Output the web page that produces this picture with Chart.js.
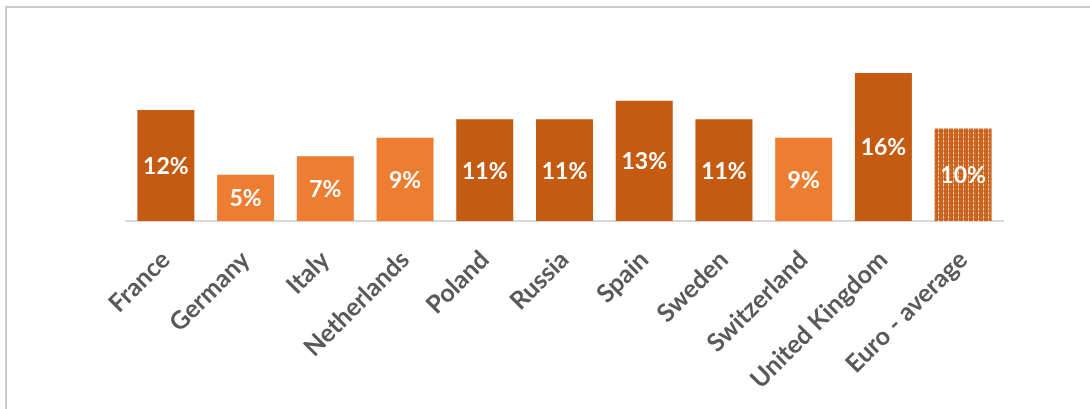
<!DOCTYPE html>
<html>
<head>
<meta charset="utf-8">
<script src="https://cdn.jsdelivr.net/npm/chart.js@4"></script>
<style>
  html, body { margin: 0; padding: 0; background: #fff; }
  #wrap { position: relative; width: 1090px; height: 409px; overflow: hidden; }
  #frame { position: absolute; left: 5px; top: 6px; right: -5px; bottom: -5px;
           border-top: 2px solid #cbcbcb; border-left: 2px solid #cbcbcb; }
  canvas { position: absolute; left: 0; top: 0; }
</style>
</head>
<body>
<div id="wrap">
  <div id="frame"></div>
  <canvas id="chart" width="1090" height="409"></canvas>
</div>
<script>
// Data
const countries = ['France', 'Germany', 'Italy', 'Netherlands', 'Poland', 'Russia', 'Spain', 'Sweden', 'Switzerland', 'United Kingdom', 'Euro - average'];
const shares = [12, 5, 7, 9, 11, 11, 13, 11, 9, 16, 10];
const valueLabels = ['12%', '5%', '7%', '9%', '11%', '11%', '13%', '11%', '9%', '16%', '10%'];

// colours
const dark = '#c55a11';
const light = '#ed7d31';

// dotted fill for the average bar
function makePattern() {
  const c = document.createElement('canvas');
  c.width = 5; c.height = 4;
  const g = c.getContext('2d');
  g.fillStyle = '#c9621c';
  g.fillRect(0, 0, 5, 4);
  g.fillStyle = '#f6d2b8';
  g.fillRect(3, 0, 1, 2);
  g.fillStyle = '#e48a4c';
  g.fillRect(3, 2, 1, 2);
  g.fillRect(0, 1, 1, 1);
  return g.createPattern(c, 'repeat');
}

const barColors = [dark, light, light, light, dark, dark, dark, dark, light, dark, makePattern()];

// draw the % text in the middle of each bar
const barLabels = {
  id: 'barLabels',
  afterDatasetsDraw(chart) {
    const ctx = chart.ctx;
    const meta = chart.getDatasetMeta(0);
    ctx.save();
    ctx.fillStyle = '#ffffff';
    ctx.font = 'bold 23px Lato';
    ctx.textAlign = 'center';
    ctx.textBaseline = 'middle';
    meta.data.forEach((bar, i) => {
      ctx.fillText(valueLabels[i], bar.x, (bar.y + bar.base) / 2 + 1);
    });
    ctx.restore();
  }
};

const ctx = document.getElementById('chart');
const chart = new Chart(ctx, {
  type: 'bar',
  data: {
    labels: countries,
    datasets: [{
      data: shares,
      backgroundColor: barColors,
      borderWidth: 0,
      barPercentage: 0.715,
      categoryPercentage: 1
    }]
  },
  options: {
    responsive: false,
    animation: false,
    layout: { padding: { left: 126, right: 87, top: 73, bottom: 0 } },
    plugins: { legend: { display: false }, tooltip: { enabled: false } },
    scales: {
      x: {
        grid: { display: false, drawTicks: false },
        border: { display: true, color: '#d9d9d9', width: 2 },
        ticks: {
          color: '#595959',
          font: { family: 'Lato', size: 25, weight: 'bold' },
          minRotation: 45,
          maxRotation: 45,
          padding: 24,
          autoSkip: false
        },
        afterFit: (scale) => { scale.height = 188; }
      },
      y: {
        display: false,
        min: 0,
        max: 16
      }
    }
  },
  plugins: [barLabels]
});
</script>
</body>
</html>
